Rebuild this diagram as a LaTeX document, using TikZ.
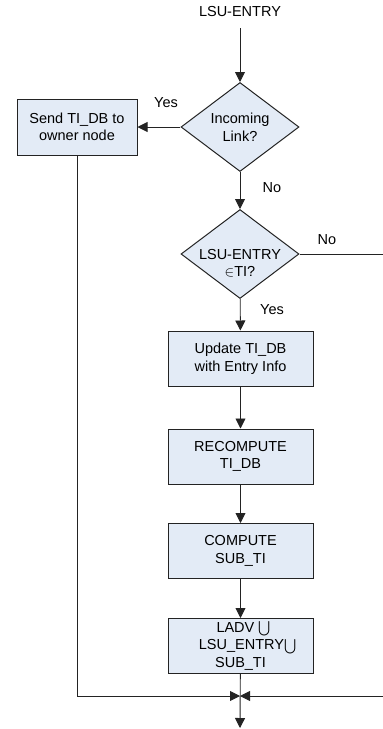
\documentclass[tikz,border=0pt]{standalone}
\usepackage{amsmath}
\usepackage{amssymb}
\usepackage{fontspec}
\setmainfont{Liberation Sans}
\usetikzlibrary{arrows.meta}
\usetikzlibrary{shapes.geometric}

\definecolor{boxfill}{RGB}{227,235,246}
\definecolor{edge}{RGB}{35,35,35}

\begin{document}
\begin{tikzpicture}[x=1pt,y=-1pt,
        font=\fontsize{14.5}{17.5}\selectfont,
        box/.style={draw=edge,fill=boxfill,line width=1pt,minimum width=145pt,minimum height=55pt,inner sep=0pt,align=center},
        decision/.style={diamond,draw=edge,fill=boxfill,line width=1pt,minimum width=118pt,minimum height=89pt,inner sep=0pt},
        flow/.style={-{Triangle[length=10pt,width=10pt]},line width=0.9pt,draw=edge}]
        \useasboundingbox (0,0) rectangle (383,729);

        \coordinate (M) at (240,696);
        \coordinate (E) at (240,728);
        \coordinate (R1) at (392,254);
        \coordinate (R2) at (392,696);

        \node[inner ysep=11pt] (entry) at (240,12) {LSU-ENTRY};

        \node[decision] (incoming) at (240,127) {};
        \node[align=center] (incomingtext) at (incoming) {Incoming\\Link?};
        \node[box,minimum width=120pt,minimum height=56pt] (send) at (77,127) {Send TI\_DB to\\owner node};

        \node[decision] (member) at (240,254) {};
        \node[align=center] (membertext) at (240,263) {LSU-ENTRY\\$\in$TI?};

        \node[box] (update) at (240.5,358.5) {Update TI\_DB\\with Entry Info};
        \node[box] (recompute) at (240.5,456.5) {RECOMPUTE\\TI\_DB};
        \node[box] (compute) at (240.5,551) {COMPUTE\\SUB\_TI};
        \node[box] (union) at (240.5,646) {\hspace*{6pt}LADV $\bigcup$\\\hspace*{14pt}LSU\_ENTRY$\bigcup$\\SUB\_TI};

        \node (yes1) at (166,103) {Yes};
        \node (no1) at (272,188) {No};
        \node (no2) at (327,240) {No};
        \node (yes2) at (272,310) {Yes};

        \draw[flow] (entry) -- (incoming);
        \draw[flow] (incoming) -- (send);
        \draw[flow] (incoming) -- (member);
        \draw[flow] (member) -- (update);
        \draw[flow] (update) -- (recompute);
        \draw[flow] (recompute) -- (compute);
        \draw[flow] (compute) -- (union);
        \draw[flow] (union) -- (E);
        \draw[flow] (send) |- (M);
        \draw[flow] (member.east) -- (R1) -- (R2) -- (M);
    \end{tikzpicture}
\end{document}
